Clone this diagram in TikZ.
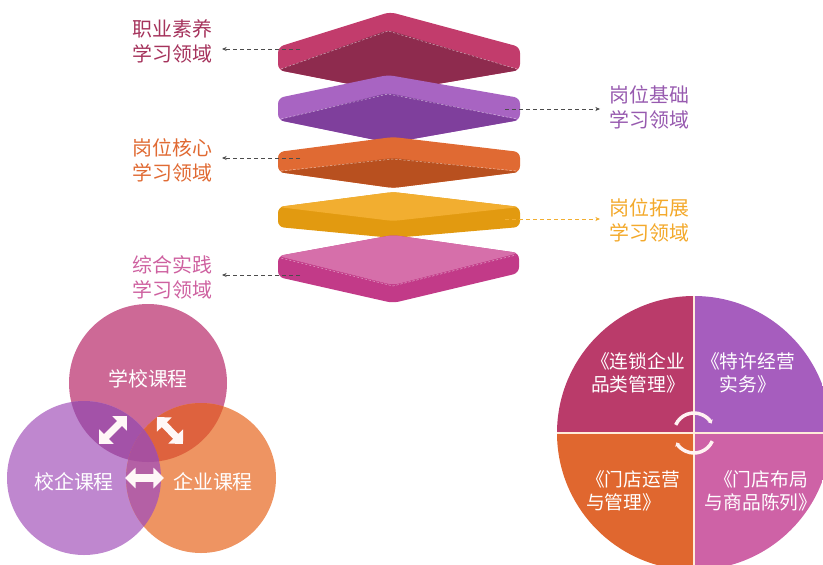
\documentclass[tikz,border=0pt]{standalone}
\usepackage{fontspec}
\newfontfamily\cjk{Noto Sans CJK SC}
\usepackage{xcolor}
\usetikzlibrary{arrows.meta, positioning, calc}

\definecolor{proA}{HTML}{C23C6C}
\definecolor{proB}{HTML}{8E2B4E}
\definecolor{basA}{HTML}{A864C2}
\definecolor{basB}{HTML}{7F3F9C}
\definecolor{corA}{HTML}{E06A33}
\definecolor{corB}{HTML}{B8501F}
\definecolor{extA}{HTML}{F2AE30}
\definecolor{extB}{HTML}{E29A10}
\definecolor{praA}{HTML}{D66FAA}
\definecolor{praB}{HTML}{C23A88}
\definecolor{vTop}{HTML}{CD6996}
\definecolor{vLeft}{HTML}{BF87CF}
\definecolor{vRight}{HTML}{EE9462}
\definecolor{pieTL}{HTML}{BA3B6A}
\definecolor{pieTR}{HTML}{A65DBE}
\definecolor{pieBL}{HTML}{E0672F}
\definecolor{pieBR}{HTML}{CE62A6}

\begin{document}
\begin{tikzpicture}[
    x=0.03cm, y=-0.03cm,
    slab/.style={rounded corners=5pt},
    seam/.style={white, opacity=0.6, line width=0.4pt, dash pattern=on 2pt off 1.5pt},
    lbl/.style={font=\cjk\fontsize{17}{21.5}\selectfont, align=left,
                inner xsep=8pt, inner ysep=1pt},
    lead/.style={-{Stealth[length=4pt, width=3.5pt]}, line width=0.8pt,
                 draw=black!70, dash pattern=on 3.5pt off 2.5pt},
    vtxt/.style={font=\cjk\fontsize{17}{20}\selectfont, text=white},
    fat/.style={arrows={Triangle[width=17pt, length=9pt]-Triangle[width=17pt, length=9pt]},
                line width=6pt, draw=white!88!pink},
    ptxt/.style={font=\cjk\fontsize{16}{19.5}\selectfont, text=white, inner sep=0pt},
    cyc/.style={arrows={-Stealth[length=3pt, width=5pt]}, line width=3pt, draw=white!80!pink},
    divider/.style={draw=white!85!orange, line width=1.4pt}
]
    \useasboundingbox (0,0) rectangle (823,564);
    \clip (0,0) rectangle (823,564);

    % Stacked learning areas
    \fill[slab, proA] (390,12) -- (520,47) -- (520,70) -- (390,92) -- (278,70) -- (278,47) -- cycle;
    \fill[slab, proB] (278,70) -- (388,30) -- (520,70) -- (390,92) -- cycle;
    \draw[seam] (281,69) -- (388,31) -- (517,69);

    \fill[slab, basA] (388,75) -- (520,98) -- (520,120) -- (390,143) -- (278,120) -- (278,98) -- cycle;
    \fill[slab, basB] (278,120) -- (388,93) -- (520,120) -- (390,143) -- cycle;
    \draw[seam] (281,119) -- (388,94) -- (517,119);

    \fill[slab, corA] (393,137) -- (520,152) -- (520,172) -- (393,188) -- (278,172) -- (278,152) -- cycle;
    \fill[slab, corB] (278,172) -- (393,158) -- (520,172) -- (393,188) -- cycle;
    \draw[seam] (281,171) -- (393,159) -- (517,171);

    \fill[slab, extB] (393,192) -- (520,207) -- (520,227) -- (393,238) -- (278,227) -- (278,207) -- cycle;
    \fill[slab, extA] (278,207) -- (393,192) -- (520,207) -- (393,221) -- cycle;

    \fill[slab, praB] (393,235) -- (519,253) -- (519,273) -- (393,303) -- (278,277) -- (278,256) -- cycle;
    \fill[slab, praA] (278,256) -- (393,235) -- (519,253) -- (393,285) -- cycle;
    \draw[seam] (281,258) -- (393,286) -- (516,255);

    \coordinate (s1) at (300,49);
    \coordinate (s2) at (505,109);
    \coordinate (s3) at (300,158);
    \coordinate (s4) at (505,219);
    \coordinate (s5) at (300,275);

    \node[lbl, text=proA!85!black, anchor=east] (prof) at (222,41) {职业素养\\学习领域};
    \node[lbl, text=basA!90!black, anchor=west] (base) at (600,107) {岗位基础\\学习领域};
    \node[lbl, text=corA, anchor=east] (core) at (222,160) {岗位核心\\学习领域};
    \node[lbl, text=extA!90!orange, anchor=west] (ext) at (600,220) {岗位拓展\\学习领域};
    \node[lbl, text=praB!80!white, anchor=east] (prac) at (222,277) {综合实践\\学习领域};

    \draw[lead] (s1) -- (s1 -| prof.east);
    \draw[lead] (s2) -- (s2 -| base.west);
    \draw[lead] (s3) -- (s3 -| core.east);
    \draw[lead, draw=extA] (s4) -- (s4 -| ext.west);
    \draw[lead] (s5) -- (s5 -| prac.east);

    % Venn of course sources
    \coordinate (vt) at (148,383);
    \coordinate (vl) at (84,478);
    \coordinate (vr) at (201,478);
    \fill[vTop] (vt) circle[radius=79];
    \fill[vLeft] (vl) circle[radius=77];
    \fill[vRight] (vr) circle[radius=75];
    \begin{scope}
        \clip (vt) circle[radius=79];
        \fill[fill={rgb,255:red,163;green,82;blue,168}] (vl) circle[radius=77];
        \fill[fill={rgb,255:red,222;green,98;blue,62}] (vr) circle[radius=75];
    \end{scope}
    \begin{scope}
        \clip (vl) circle[radius=77];
        \fill[fill={rgb,255:red,180;green,96;blue,165}] (vr) circle[radius=75];
        \clip (vt) circle[radius=79];
        \fill[fill={rgb,255:red,168;green,80;blue,158}] (vr) circle[radius=75];
    \end{scope}

    \node[vtxt] (school) at (148,379) {学校课程};
    \node[vtxt] (joint) at (74,482) {校企课程};
    \node[vtxt] (firm) at (213,482) {企业课程};

    \coordinate (a1) at (99,444);
    \coordinate (a2) at (127,416);
    \coordinate (a3) at (157,417);
    \coordinate (a4) at (183,444);
    \coordinate (a5) at (125,478);
    \coordinate (a6) at (164,478);
    \draw[fat] (a1) -- (a2);
    \draw[fat] (a3) -- (a4);
    \draw[fat] (a5) -- (a6);

    % Four core courses
    \coordinate (pc) at (694,433);
    \begin{scope}
        \clip (pc) circle[radius=137];
        \fill[pieTL] (pc) rectangle ++(-140,-140);
        \fill[pieTR] (pc) rectangle ++(140,-140);
        \fill[pieBL] (pc) rectangle ++(-140,140);
        \fill[pieBR] (pc) rectangle ++(140,140);
    \end{scope}
    \draw[divider] ($(pc)+(0,-137)$) -- ($(pc)+(0,137)$);
    \draw[divider] ($(pc)+(-137,0)$) -- ($(pc)+(137,0)$);

    \draw[cyc] ($(pc)+(204:20)$) arc[start angle=204, end angle=332, radius=20];
    \draw[cyc] ($(pc)+(24:20)$) arc[start angle=24, end angle=152, radius=20];

    \node[ptxt, align=center] (chain) at (638,373) {《连锁企业\\品类管理》};
    \node[ptxt, align=center] (franch) at (748,373) {《特许经营\\实务》};
    \node[ptxt, align=left, anchor=west] (store) at (586,491) {《门店运营\\与管理》};
    \node[ptxt, align=center] (shelf) at (761,491) {《门店布局\\与商品陈列》};
\end{tikzpicture}
\end{document}
